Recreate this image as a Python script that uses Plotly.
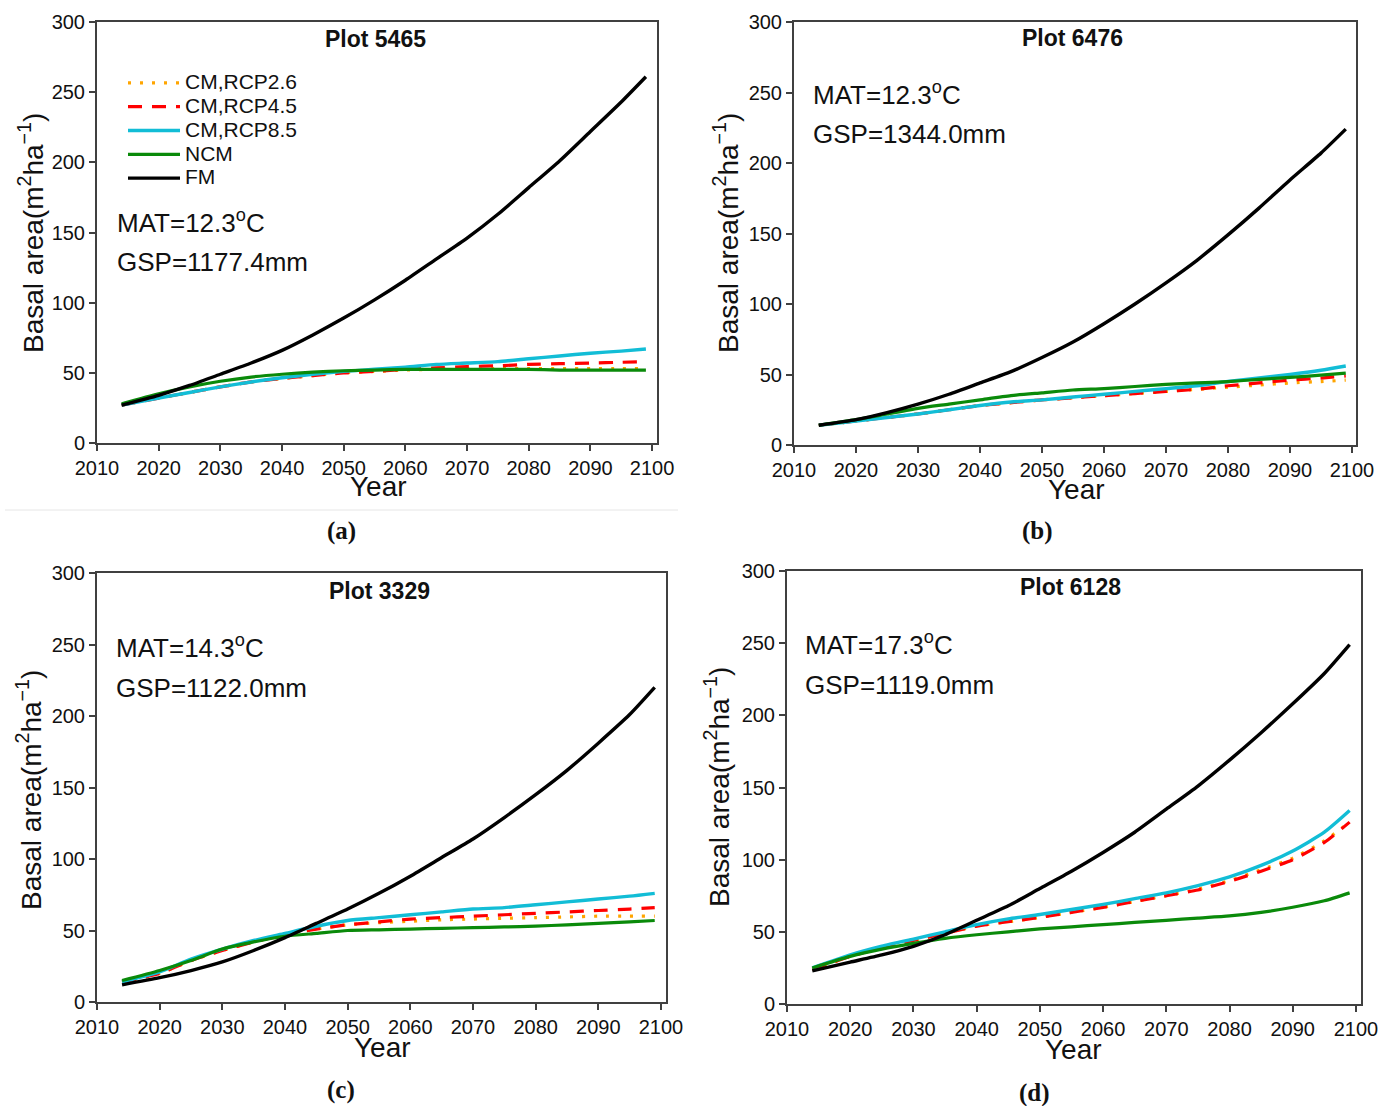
import plotly.graph_objects as go

W, H = 1395, 1106

years = [2014, 2020, 2025, 2030, 2035, 2040, 2045, 2050, 2055, 2060, 2065, 2070, 2075, 2080, 2085, 2090, 2095, 2099]

series_names = ["CM,RCP2.6", "CM,RCP4.5", "CM,RCP8.5", "NCM", "FM"]

# Plot 5465
a_rcp26 = [27, 32, 36, 40, 43.5, 46, 48, 50, 51, 52, 52.5, 52.5, 53, 53, 53, 53, 53, 53]
a_rcp45 = [27, 32, 36, 40, 43.5, 46, 48, 50, 51, 52.5, 53.5, 54.5, 55, 56, 56.5, 57, 57.5, 58]
a_rcp85 = [27, 32, 36, 40, 43.5, 46.5, 49, 51, 52.5, 54, 56, 57, 58, 60, 62, 64, 65.5, 67]
a_ncm = [28, 35, 40, 44, 47, 49, 50.5, 51.5, 52, 52.5, 52.5, 52.5, 52.5, 52.5, 52, 52, 52, 52]
a_fm = [27, 34, 41, 49, 57, 66, 77, 89, 102, 116, 131, 146, 163, 182, 201, 222, 243, 261]

# Plot 6476
b_rcp26 = [14, 17, 19.5, 22, 25, 28, 30, 32, 33.5, 35, 36.5, 38, 39.5, 41, 42.5, 44, 45, 46]
b_rcp45 = [14, 17, 19.5, 22, 25, 28, 30, 32, 33.5, 35, 36.5, 38, 39.5, 42, 44, 46, 47.5, 49]
b_rcp85 = [14, 17, 19.5, 22, 25, 28, 30.5, 32, 34, 36, 38, 40, 42, 45, 47.5, 50, 53, 56]
b_ncm = [14, 18, 22, 26, 29, 32, 35, 37, 39, 40, 41.5, 43, 44, 45, 46.5, 48, 49.5, 51]
b_fm = [14, 18, 23, 29, 36, 44, 52, 62, 73, 86, 100, 115, 131, 149, 168, 188, 207, 224]

# Plot 3329
c_rcp26 = [14, 20, 29, 36, 42, 47, 51, 54, 55.5, 56.5, 57.5, 58, 58.5, 59, 59.5, 60, 60, 60]
c_rcp45 = [14, 20, 29, 36, 42, 47, 51, 54, 56, 58, 59, 60, 61, 62, 63, 64, 65, 66]
c_rcp85 = [14, 21, 30, 37, 43, 48, 53, 57, 59, 61, 63, 65, 66, 68, 70, 72, 74, 76]
c_ncm = [15, 22, 29, 37, 42, 46, 48, 50, 50.5, 51, 51.5, 52, 52.5, 53, 54, 55, 56, 57]
c_fm = [12, 17, 22, 28, 36, 45, 55, 65, 76, 88, 101, 114, 129, 145, 162, 181, 201, 220]

# Plot 6128
d_rcp26 = [24, 33, 39, 44, 49, 54, 57, 60, 63.5, 67, 71, 75, 79.5, 85.5, 93, 101, 113, 126]
d_rcp45 = [24, 33, 39, 44, 49, 54, 57, 60, 63.5, 67, 71, 75, 79, 85, 92, 100, 112, 126]
d_rcp85 = [25, 34, 40, 45, 50, 55, 59, 62, 65.5, 69, 73, 77, 82, 88, 96, 106, 119, 134]
d_ncm = [25, 33, 38, 42, 45.5, 48, 50, 52, 53.5, 55, 56.5, 58, 59.5, 61, 63.5, 67, 71.5, 77]
d_fm = [23, 29, 34, 40, 48, 58, 68, 80, 92, 105, 119, 135, 151, 169, 188, 208, 229, 249]

plot_titles = ["Plot 5465", "Plot 6476", "Plot 3329", "Plot 6128"]
mat_texts = ["MAT=12.3<sup>o</sup>C", "MAT=12.3<sup>o</sup>C", "MAT=14.3<sup>o</sup>C", "MAT=17.3<sup>o</sup>C"]
gsp_texts = ["GSP=1177.4mm", "GSP=1344.0mm", "GSP=1122.0mm", "GSP=1119.0mm"]
panel_labels = ["(a)", "(b)", "(c)", "(d)"]

x_ticks = [2010, 2020, 2030, 2040, 2050, 2060, 2070, 2080, 2090, 2100]
y_ticks = [0, 50, 100, 150, 200, 250, 300]

panels_data = [
    [a_rcp26, a_rcp45, a_rcp85, a_ncm, a_fm],
    [b_rcp26, b_rcp45, b_rcp85, b_ncm, b_fm],
    [c_rcp26, c_rcp45, c_rcp85, c_ncm, c_fm],
    [d_rcp26, d_rcp45, d_rcp85, d_ncm, d_fm],
]

colors = ["#FFA500", "#FF0000", "#12BDD6", "#0A8A0A", "#000000"]
dashes = ["3px,9px", "14px,10px", "solid", "solid", "solid"]
widths = [3.2, 3.2, 3.4, 3.2, 3.4]


def px(x):
    return x / W


def py(y):
    return 1 - y / H


# panel frames in pixels: left, right, top, bottom, x range max
frames = [
    (97, 657, 22, 443, 2100.8),
    (794, 1356, 22, 445, 2100.65),
    (97, 666, 573, 1002, 2100.8),
    (787, 1361, 571, 1004, 2100.8),
]

title_pos = [(375, 39), (1072, 38), (379, 591), (1070, 587)]
mat_pos = [(115, 221), (811, 94), (114, 647), (803, 643)]
gsp_pos = [(115, 262), (811, 134), (114, 688), (803, 685)]
ytitle_pos = [(31, 233), (726, 233), (29, 790), (717, 787)]
xtitle_pos = [(378, 487), (1076, 489), (382, 1047), (1073, 1049)]
plabel_pos = [(341, 531), (1037, 531), (341, 1090), (1034, 1093)]

FONT = "Liberation Sans, Arial, sans-serif"

fig = go.Figure()
layout = {}
annotations = []

for i, (data, fr) in enumerate(zip(panels_data, frames)):
    n = i + 1
    xa = "x" if n == 1 else f"x{n}"
    ya = "y" if n == 1 else f"y{n}"
    for j, vals in enumerate(data):
        fig.add_trace(go.Scatter(
            x=years, y=vals, mode="lines",
            name=f'<span style="font-size:21px">{series_names[j]}</span>',
            line=dict(color=colors[j], dash=dashes[j], width=widths[j], shape="spline", smoothing=0.6),
            xaxis=xa, yaxis=ya, showlegend=(i == 0),
        ))
    l, r, t, b, xmax = fr
    axcommon = dict(
        showline=True, mirror=True, linecolor="#404040", linewidth=2,
        ticks="outside", ticklen=6, tickwidth=2, tickcolor="#404040",
        showgrid=False, zeroline=False, automargin=False,
        tickfont=dict(family=FONT, size=20, color="#111111"),
    )
    layout["xaxis" if n == 1 else f"xaxis{n}"] = dict(
        domain=[px(l), px(r)], range=[2010, xmax], anchor=ya,
        tickvals=x_ticks, **axcommon)
    layout["yaxis" if n == 1 else f"yaxis{n}"] = dict(
        domain=[py(b), py(t)], range=[0, 300], anchor=xa,
        tickvals=y_ticks, **axcommon)

    annotations.append(dict(x=px(title_pos[i][0]), y=py(title_pos[i][1]), xref="paper", yref="paper",
                            text=f"<b>{plot_titles[i]}</b>", showarrow=False,
                            font=dict(family=FONT, size=23, color="#111111"),
                            xanchor="center", yanchor="middle"))
    annotations.append(dict(x=px(mat_pos[i][0]), y=py(mat_pos[i][1]), xref="paper", yref="paper",
                            text=mat_texts[i], showarrow=False,
                            font=dict(family=FONT, size=26, color="#111111"),
                            xanchor="left", yanchor="middle"))
    annotations.append(dict(x=px(gsp_pos[i][0]), y=py(gsp_pos[i][1]), xref="paper", yref="paper",
                            text=gsp_texts[i], showarrow=False,
                            font=dict(family=FONT, size=26, color="#111111"),
                            xanchor="left", yanchor="middle"))
    annotations.append(dict(x=px(ytitle_pos[i][0]), y=py(ytitle_pos[i][1]), xref="paper", yref="paper",
                            text="Basal area(m<sup>2</sup>ha<sup>\u22121</sup>)", showarrow=False,
                            textangle=-90,
                            font=dict(family=FONT, size=28, color="#111111"),
                            xanchor="center", yanchor="middle"))
    annotations.append(dict(x=px(xtitle_pos[i][0]), y=py(xtitle_pos[i][1]), xref="paper", yref="paper",
                            text="Year", showarrow=False,
                            font=dict(family=FONT, size=28, color="#111111"),
                            xanchor="center", yanchor="middle"))
    annotations.append(dict(x=px(plabel_pos[i][0]), y=py(plabel_pos[i][1]), xref="paper", yref="paper",
                            text=f"<b>{panel_labels[i]}</b>", showarrow=False,
                            font=dict(family="Liberation Serif, Times New Roman, serif", size=25, color="#111111"),
                            xanchor="center", yanchor="middle"))

fig.update_layout(
    width=W, height=H,
    margin=dict(l=0, r=0, t=0, b=0, autoexpand=False),
    paper_bgcolor="white", plot_bgcolor="white",
    annotations=annotations,
    shapes=[dict(type="line", xref="paper", yref="paper",
                 x0=px(5), x1=px(678), y0=py(510), y1=py(510),
                 line=dict(color="#e6e6e6", width=1))],
    legend=dict(x=px(123), y=py(66), xanchor="left", yanchor="top",
                bgcolor="rgba(0,0,0,0)", font=dict(family=FONT, size=16, color="#111111"),
                tracegroupgap=0, itemwidth=52),
    **layout,
)

fig.write_html("out.html")
